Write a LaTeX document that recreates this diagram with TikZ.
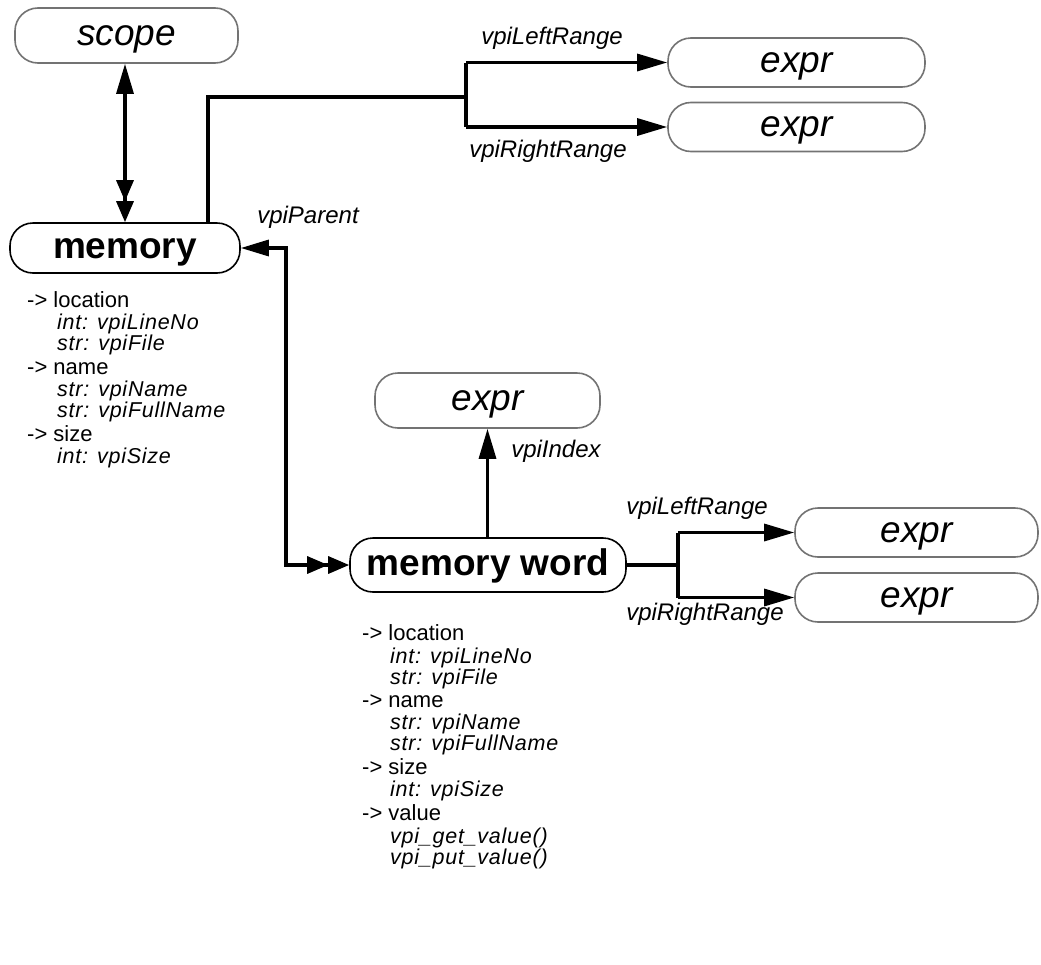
\documentclass[tikz,border=0pt]{standalone}
\usepackage{fontspec}
\setmainfont{Liberation Sans}
\newfontfamily\attrit[LetterSpace=3.5]{Liberation Sans}
\usetikzlibrary{arrows.meta}
\tikzset{
  conn/.style={line width=3.2pt, draw=black, line join=miter},
  tipA/.tip={Triangle[length=30pt,width=17pt]},
  tipD/.tip={Triangle[length=21pt,width=17pt]Triangle[length=21pt,width=17pt]},
  gbox/.style={draw=black!55, line width=1.6pt, rounded corners=23pt, inner sep=0pt,
    text height=19pt, text depth=0pt,
    minimum width=#1, minimum height=49pt, font=\fontsize{37}{40}\selectfont\itshape},
  bbox/.style={draw=black, line width=1.6pt, rounded corners=23pt, inner sep=0pt,
    text height=20pt, text depth=0pt,
    minimum width=#1, minimum height=50pt, font=\fontsize{37}{40}\selectfont\bfseries},
  elabel/.style={inner sep=0pt, font=\fontsize{24}{26}\selectfont\itshape},
  attrR/.style={inner sep=0pt, anchor=base west, font=\fontsize{22}{24}\selectfont},
  attrI/.style={inner sep=0pt, anchor=base west, font=\attrit\fontsize{21.5}{23}\selectfont\itshape},
}
\begin{document}
\begin{tikzpicture}[x=1pt,y=-1pt]
\useasboundingbox (0,0) rectangle (1041,964);
% nodes
\node[gbox=223pt, minimum height=55pt] (scope) at (126.5,35.5) {scope};
\node[bbox=230pt] (memory) at (125,248) {memory};
\node[gbox=257pt] (exprA) at (796.5,62.5) {expr};
\node[gbox=257pt] (exprB) at (796.5,127) {expr};
\node[gbox=225pt, minimum height=55pt] (exprI) at (487.5,400.5) {expr};
\node[bbox=276pt, minimum height=54pt] (mword) at (488,565) {memory word};
\node[gbox=243pt] (exprC) at (916.5,532.5) {expr};
\node[gbox=243pt] (exprD) at (916.5,597.5) {expr};
% helper coordinates
\coordinate (mTop) at (208,0);
\coordinate (b1) at (466,97);
\coordinate (p1) at (286,0);
\coordinate (b2) at (678,0);
% connectors
\draw[conn, {tipA}-{tipD}] (memory.north |- scope.south) -- (memory.north);
\draw[conn] (mTop |- memory.north) |- (b1);
\draw[conn] (b1 |- exprA.west) -- (b1 |- exprB.west);
\draw[conn, -{tipA}] (b1 |- exprA.west) -- (exprA.west);
\draw[conn, -{tipA}] (b1 |- exprB.west) -- (exprB.west);
\draw[conn, {Triangle[length=28pt,width=16pt]}-{tipD}]
  (memory.east) -- (p1 |- memory.east) -- (p1 |- mword.west) -- (mword.west);
\draw[conn, -{tipA}] (exprI.south |- mword.north) -- (exprI.south);
\draw[conn] (mword.east) -- (b2 |- mword.east);
\draw[conn] (b2 |- exprC.west) -- (b2 |- exprD.west);
\draw[conn, -{tipA}] (b2 |- exprC.west) -- (exprC.west);
\draw[conn, -{tipA}] (b2 |- exprD.west) -- (exprD.west);
% edge labels
\node[elabel] (lLR1) at (552,38) {vpiLeftRange};
\node[elabel] (lRR1) at (548,151) {vpiRightRange};
\node[elabel] (lPar) at (308,217) {vpiParent};
\node[elabel] (lIdx) at (556,451) {vpiIndex};
\node[elabel] (lLR2) at (697,508) {vpiLeftRange};
\node[elabel] (lRR2) at (705,614) {vpiRightRange};
% memory attributes
\node[attrR] (ma1) at (27,307) {->~location};
\node[attrI] (ma2) at (57,329) {int: vpiLineNo};
\node[attrI] (ma3) at (57,350) {str: vpiFile};
\node[attrR] (ma4) at (27,374) {->~name};
\node[attrI] (ma5) at (57,396) {str: vpiName};
\node[attrI] (ma6) at (57,417) {str: vpiFullName};
\node[attrR] (ma7) at (27,441) {->~size};
\node[attrI] (ma8) at (57,463) {int: vpiSize};
% memory word attributes
\node[attrR] (wa1) at (362,640) {->~location};
\node[attrI] (wa2) at (390,663) {int: vpiLineNo};
\node[attrI] (wa3) at (390,684) {str: vpiFile};
\node[attrR] (wa4) at (362,707) {->~name};
\node[attrI] (wa5) at (390,729) {str: vpiName};
\node[attrI] (wa6) at (390,750) {str: vpiFullName};
\node[attrR] (wa7) at (362,774) {->~size};
\node[attrI] (wa8) at (390,796) {int: vpiSize};
\node[attrR] (wa9) at (362,820) {->~value};
\node[attrI] (wa10) at (390,843) {vpi\_get\_value()};
\node[attrI] (wa11) at (390,864) {vpi\_put\_value()};
\end{tikzpicture}
\end{document}
